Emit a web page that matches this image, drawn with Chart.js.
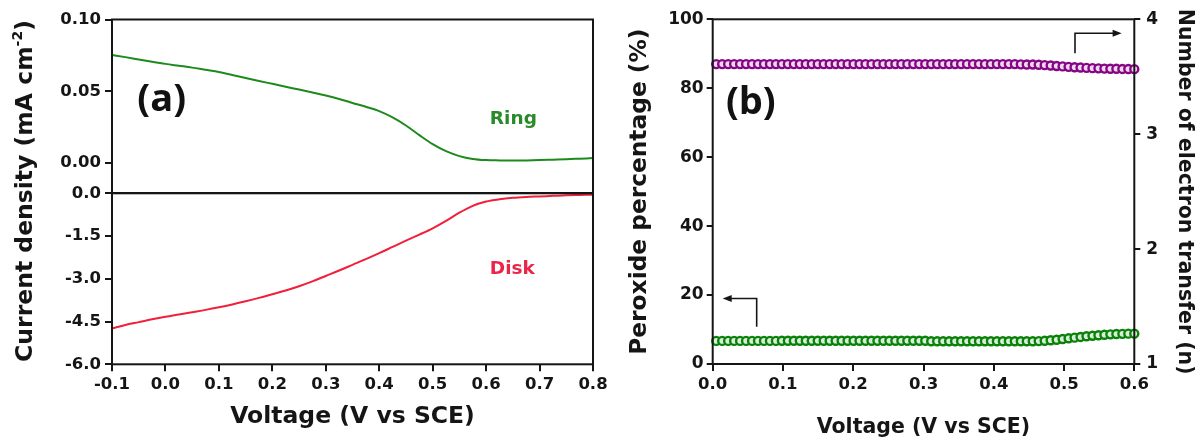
<!DOCTYPE html>
<html><head><meta charset="utf-8">
<script src="https://cdn.jsdelivr.net/npm/chart.js@4.4.1/dist/chart.umd.min.js"></script>
<style>
html,body{margin:0;padding:0;background:#fff;}
#wrap{position:relative;width:1203px;height:444px;overflow:hidden;background:#fff;}
.box{position:absolute;top:0;}
canvas{display:block;}
</style></head><body>
<div id="wrap">
<div class="box" style="left:0;"><canvas id="ring" width="620" height="444"></canvas></div>
<div class="box" style="left:0;"><canvas id="disk" width="620" height="444"></canvas></div>
<div class="box" style="left:600px;"><canvas id="pb" width="603" height="444"></canvas></div>
</div>
<script>
// ---------- Panel (a) data ----------
const voltageA = [-0.1,-0.075,-0.05,-0.025,0.0,0.025,0.05,0.075,0.1,0.125,0.15,0.175,0.2,0.225,0.25,0.275,0.3,0.325,0.35,0.375,0.4,0.425,0.45,0.475,0.5,0.525,0.55,0.575,0.6,0.625,0.65,0.675,0.7,0.725,0.75,0.775,0.8];
const ringCurrent = [0.0753,0.0738,0.0722,0.0706,0.0691,0.0678,0.0665,0.0650,0.0635,0.0614,0.0593,0.0572,0.0552,0.0532,0.0512,0.0492,0.0471,0.0447,0.0419,0.0392,0.0362,0.0318,0.0262,0.0195,0.0132,0.0083,0.0049,0.0029,0.0021,0.0019,0.0018,0.0019,0.0021,0.0024,0.0027,0.0031,0.0035];
const diskCurrent = [-4.74,-4.62,-4.52,-4.42,-4.33,-4.25,-4.17,-4.09,-4.00,-3.90,-3.79,-3.67,-3.54,-3.41,-3.26,-3.09,-2.90,-2.71,-2.51,-2.31,-2.10,-1.88,-1.66,-1.45,-1.23,-0.97,-0.68,-0.44,-0.29,-0.21,-0.16,-0.13,-0.11,-0.09,-0.07,-0.06,-0.05];
const ringTicks = [0.00,0.05,0.10];
const diskTicks = [0.0,-1.5,-3.0,-4.5,-6.0];
const voltageATicks = [-0.1,0.0,0.1,0.2,0.3,0.4,0.5,0.6,0.7,0.8];

// ---------- Panel (b) data ----------
const voltageB = [0.005,0.0135,0.022,0.0305,0.039,0.0475,0.056,0.0645,0.073,0.0815,0.09,0.0985,0.107,0.1155,0.124,0.1325,0.141,0.1495,0.158,0.1665,0.175,0.1835,0.192,0.2005,0.209,0.2175,0.226,0.2345,0.243,0.2515,0.26,0.2685,0.277,0.2855,0.294,0.3025,0.311,0.3195,0.328,0.3365,0.345,0.3535,0.362,0.3705,0.379,0.3875,0.396,0.4045,0.413,0.4215,0.43,0.4385,0.447,0.4555,0.464,0.4725,0.481,0.4895,0.498,0.5065,0.515,0.5235,0.532,0.5405,0.549,0.5575,0.566,0.5745,0.583,0.5915,0.6];
const peroxidePct = [6.7,6.7,6.7,6.7,6.7,6.7,6.7,6.7,6.7,6.7,6.7,
  6.75,6.75,6.75,6.75,6.75,6.75,6.75,6.75,6.75,6.75,6.75,6.75,6.75,
  6.75,6.75,6.75,6.75,6.75,6.75,6.75,6.75,6.75,6.75,6.75,6.75,
  6.6,6.6,6.6,6.6,6.6,6.6,6.6,6.6,6.6,6.6,6.6,6.6,6.6,6.6,6.6,6.6,6.6,6.6,
  6.65,6.75,6.9,7.05,7.25,7.45,7.65,7.85,8.05,8.2,8.35,8.5,8.6,8.7,8.75,8.8,8.8];
const electronN = [3.61,3.61,3.61,3.61,3.61,3.61,3.61,3.61,3.61,3.61,
  3.61,3.61,3.61,3.61,3.61,3.61,3.61,3.61,3.61,3.61,
  3.61,3.61,3.61,3.61,3.61,3.61,3.61,3.61,3.61,3.61,
  3.61,3.61,3.61,3.61,3.61,3.61,3.61,3.61,3.61,3.61,
  3.61,3.61,3.61,3.61,3.61,3.61,3.61,3.61,3.61,3.61,3.61,
  3.608,3.607,3.606,3.604,3.601,3.598,3.594,3.59,3.586,3.583,3.58,3.577,3.575,3.573,3.571,3.57,3.569,3.568,3.567,3.566];
const peroxideTicks = [0,20,40,60,80,100];
const nTicks = [1,2,3,4];
const voltageBTicks = [0.0,0.1,0.2,0.3,0.4,0.5,0.6];

// ---------- styling helpers ----------
const FAM = "'DejaVu Sans', sans-serif";
const INK = '#151515';
function fixed(list){ return function(scale){ scale.ticks = list.map(v => ({value: v})); }; }
function tickFont(size){ return {family: FAM, size: size, weight: 'bold'}; }
const gridStyle = (len) => ({drawOnChartArea:false, drawTicks:true, tickLength:len, color:INK, lineWidth:2});

const frame = {
  id: 'frame',
  afterDatasetsDraw(chart){
    const {ctx, chartArea:a} = chart;
    ctx.save();
    ctx.strokeStyle = INK; ctx.lineWidth = 2;
    ctx.strokeRect(a.left, a.top, a.right - a.left, a.bottom - a.top);
    ctx.restore();
  }
};
const base = {responsive:false, animation:false, events:[], plugins:{legend:{display:false}, tooltip:{enabled:false}}};

// ---------- Ring chart ----------
const ringLabels = {
  id: 'ringLabels',
  afterDraw(chart){
    const {ctx, scales:{x, y}} = chart;
    ctx.save();
    ctx.textAlign = 'center'; ctx.textBaseline = 'middle';
    ctx.fillStyle = '#111';
    ctx.font = "bold 38px 'Open Sans', sans-serif";
    ctx.fillText('(a)', x.getPixelForValue(-0.007), y.getPixelForValue(0.0435));
    ctx.fillStyle = '#2a8a2a';
    ctx.font = "bold 18.5px " + FAM;
    ctx.fillText('Ring', x.getPixelForValue(0.651), y.getPixelForValue(0.0303));
    ctx.restore();
  }
};
new Chart(document.getElementById('ring'), {
  type: 'line',
  data: {datasets: [{data: voltageA.map((v,i) => ({x:v, y:ringCurrent[i]})), borderColor:'#1d8a1d', borderWidth:2, pointRadius:0, cubicInterpolationMode:'monotone', fill:false}]},
  options: Object.assign({}, base, {
    layout: {padding: {left:0, right:27, top:19.5, bottom:251}},
    scales: {
      x: {type:'linear', min:-0.1, max:0.8, display:false},
      y: {type:'linear', min:-0.0208, max:0.10, afterBuildTicks: fixed(ringTicks), afterFit(s){ s.width = 112; },
          border:{display:false}, grid: gridStyle(7),
          ticks: {callback: v => Number(v).toFixed(2), font: tickFont(16.5), color: INK, padding: 4}}
    }
  }),
  plugins: [frame, ringLabels]
});

// ---------- Disk chart ----------
const diskLabels = {
  id: 'diskLabels',
  afterDraw(chart){
    const {ctx, scales:{x, y}} = chart;
    ctx.save();
    ctx.textAlign = 'center'; ctx.textBaseline = 'middle';
    ctx.fillStyle = '#ec2447';
    ctx.font = "bold 18.5px " + FAM;
    ctx.fillText('Disk', x.getPixelForValue(0.649), y.getPixelForValue(-2.68));
    // shared y-axis title of panel (a)
    ctx.fillStyle = INK;
    ctx.translate(26, 191);
    ctx.rotate(-Math.PI/2);
    const mainF = "bold 23.5px " + FAM, supF = "bold 14px " + FAM;
    const t1 = 'Current density (mA cm', t2 = '-2', t3 = ')';
    ctx.font = mainF; const w1 = ctx.measureText(t1).width, w3 = ctx.measureText(t3).width;
    ctx.font = supF; const w2 = ctx.measureText(t2).width;
    let px = -(w1 + w2 + w3) / 2;
    ctx.textAlign = 'left';
    ctx.font = mainF; ctx.fillText(t1, px, 0); px += w1;
    ctx.font = supF; ctx.fillText(t2, px, -8); px += w2;
    ctx.font = mainF; ctx.fillText(t3, px, 0);
    ctx.restore();
  }
};
new Chart(document.getElementById('disk'), {
  type: 'line',
  data: {datasets: [{data: voltageA.map((v,i) => ({x:v, y:diskCurrent[i]})), borderColor:'#f0203a', borderWidth:2, pointRadius:0, cubicInterpolationMode:'monotone', fill:false}]},
  options: Object.assign({}, base, {
    layout: {padding: {left:0, right:27, top:193.3, bottom:0}},
    scales: {
      x: {type:'linear', min:-0.1, max:0.8, afterBuildTicks: fixed(voltageATicks), afterFit(s){ s.height = 79.7; },
          border:{display:false}, grid: gridStyle(7),
          ticks: {callback: v => Number(v).toFixed(1), font: tickFont(16.5), color: INK, padding: 4, maxRotation:0, autoSkip:false},
          title: {display:true, text:'Voltage (V vs SCE)', color:INK, font:{family:FAM, size:23.5, weight:'bold'}, padding:{top:0, bottom:13}}},
      y: {type:'linear', min:-6, max:0, afterBuildTicks: fixed(diskTicks), afterFit(s){ s.width = 112; },
          border:{display:false}, grid: gridStyle(7),
          ticks: {callback: v => Number(v).toFixed(1), font: tickFont(16.5), color: INK, padding: 4}}
    }
  }),
  plugins: [frame, diskLabels]
});

// ---------- Panel (b) ----------
const bLabels = {
  id: 'bLabels',
  afterDraw(chart){
    const {ctx, scales:{x, yL, yR}} = chart;
    ctx.save();
    ctx.textAlign = 'center'; ctx.textBaseline = 'middle';
    ctx.fillStyle = '#111';
    ctx.font = "bold 38px 'Open Sans', sans-serif";
    ctx.fillText('(b)', x.getPixelForValue(0.0542), yL.getPixelForValue(75.6));
    ctx.strokeStyle = INK; ctx.fillStyle = INK; ctx.lineWidth = 1.6;
    // left-pointing arrow (peroxide -> left axis)
    let xv = x.getPixelForValue(0.0626), yb = yL.getPixelForValue(10.8), yt = yL.getPixelForValue(19.0), xe = x.getPixelForValue(0.0142);
    ctx.beginPath(); ctx.moveTo(xv, yb); ctx.lineTo(xv, yt); ctx.lineTo(xe + 7, yt); ctx.stroke();
    ctx.beginPath(); ctx.moveTo(xe, yt); ctx.lineTo(xe + 9, yt - 3.5); ctx.lineTo(xe + 9, yt + 3.5); ctx.closePath(); ctx.fill();
    // right-pointing arrow (n -> right axis)
    xv = x.getPixelForValue(0.5156); yb = yR.getPixelForValue(3.704); yt = yR.getPixelForValue(3.878); xe = x.getPixelForValue(0.582);
    ctx.beginPath(); ctx.moveTo(xv, yb); ctx.lineTo(xv, yt); ctx.lineTo(xe - 7, yt); ctx.stroke();
    ctx.beginPath(); ctx.moveTo(xe, yt); ctx.lineTo(xe - 9, yt - 3.5); ctx.lineTo(xe - 9, yt + 3.5); ctx.closePath(); ctx.fill();
    ctx.restore();
  }
};
const titleFontB = {family:FAM, size:20.5, weight:'bold'};
new Chart(document.getElementById('pb'), {
  type: 'scatter',
  data: {datasets: [
    {data: voltageB.map((v,i) => ({x:v, y:peroxidePct[i]})), yAxisID:'yL', showLine:false, pointStyle:'circle', pointRadius:4, pointBorderWidth:2.4, pointBorderColor:'#0a820a', pointBackgroundColor:'#d9eed9', clip:false},
    {data: voltageB.map((v,i) => ({x:v, y:electronN[i]})), yAxisID:'yR', showLine:false, pointStyle:'circle', pointRadius:4, pointBorderWidth:2.4, pointBorderColor:'#850585', pointBackgroundColor:'#efd9ef', clip:false}
  ]},
  options: Object.assign({}, base, {
    layout: {padding: {left:0, right:0, top:19.3, bottom:0}},
    scales: {
      x: {type:'linear', min:0, max:0.6, afterBuildTicks: fixed(voltageBTicks), afterFit(s){ s.height = 80; },
          border:{display:false}, grid: gridStyle(7),
          ticks: {callback: v => Number(v).toFixed(1), font: tickFont(16.5), color: INK, padding: 4, maxRotation:0, autoSkip:false},
          title: {display:true, text:'Voltage (V vs SCE)', color:INK, font:titleFontB, padding:{top:0, bottom:4}}},
      yL: {type:'linear', position:'left', min:0, max:100, afterBuildTicks: fixed(peroxideTicks), afterFit(s){ s.width = 112.7; },
          border:{display:false}, grid: gridStyle(6),
          ticks: {callback: v => String(v), font: tickFont(17), color: INK, padding: 3},
          title: {display:true, text:'Peroxide percentage (%)', color:INK, font:{family:FAM, size:23.3, weight:'bold'}, padding:{top:26, bottom:0}}},
      yR: {type:'linear', position:'right', min:1, max:4, afterBuildTicks: fixed(nTicks), afterFit(s){ s.width = 68.7; },
          border:{display:false}, grid: gridStyle(6),
          ticks: {callback: v => String(v), font: tickFont(17), color: INK, padding: 6},
          title: {display:true, text:'Number of electron transfer (n)', color:INK, font:titleFontB, padding:{top:6.7, bottom:0}}}
    }
  }),
  plugins: [frame, bLabels]
});
</script>
</body></html>
